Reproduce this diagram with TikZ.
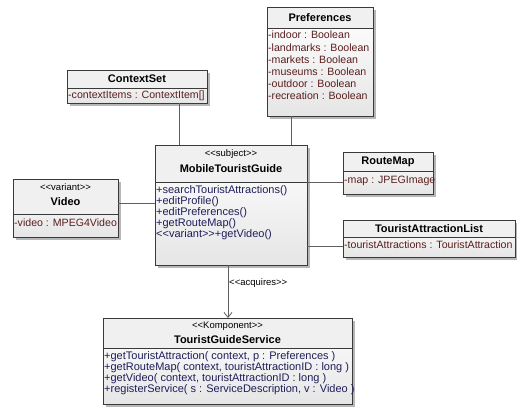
\documentclass[tikz,border=0pt]{standalone}
\usepackage{fontspec}
\setmainfont{Liberation Sans}
\usetikzlibrary{shadows,calc,arrows.meta}
\definecolor{attrc}{HTML}{5A1E1E}
\definecolor{opc}{HTML}{1E1E5A}
\definecolor{linec}{HTML}{606060}
\definecolor{hdrc}{HTML}{F0F0F0}
\definecolor{bordc}{HTML}{3A3A3A}
\newcommand\umlopen{<\kern0pt<}
\newcommand\umlclose{>\kern0pt>}
\tikzset{
  classbox/.style={rectangle, inner sep=0pt, outer sep=0pt, draw=bordc, line width=0.8pt,
    top color=white, bottom color=black!10,
    drop shadow={shadow xshift=2.5pt, shadow yshift=-2.5pt, fill=black!35, opacity=0.8}},
  hdrfill/.style={fill=hdrc},
  border/.style={draw=bordc, line width=0.8pt},
  titletext/.style={inner sep=0pt, font=\fontsize{11}{13}\selectfont\bfseries},
  stereo/.style={inner sep=0pt, font=\fontsize{9.5}{11}\selectfont},
  attrtext/.style={inner sep=0pt, anchor=north west, align=left, text=attrc, font=\fontsize{10.6}{11.8}\selectfont},
  optext/.style={inner sep=0pt, anchor=north west, align=left, text=opc, font=\fontsize{11}{11}\selectfont},
  conn/.style={draw=linec, line width=0.8pt},
  lbl/.style={inner sep=0pt, font=\fontsize{9.5}{11}\selectfont}
}
% name, left, top, right, header bottom, bottom
\newcommand\umlbox[6]{%
  \node[classbox, anchor=north west, minimum width=#4pt-#2pt, minimum height=#6pt-#3pt] (#1) at (#2,#3) {};
  \fill[hdrfill] (#2,#3) rectangle (#4,#5);
  \draw[border] (#2,#5) -- (#4,#5);
  \draw[border] (#1.north west) rectangle (#1.south east);
}
\begin{document}
\begin{tikzpicture}[x=1pt,y=-1pt]
\useasboundingbox (0,0) rectangle (517,410);
\fill[white] (0,0) rectangle (517,410);

% Preferences
\umlbox{pref}{267}{7}{373}{28}{116}
\node[titletext] (prefT) at (320,17.5) {Preferences};
\node[attrtext] (prefA) at (268,31) {-indoor : Boolean\\[0.4pt]-landmarks : Boolean\\[0.4pt]-markets : Boolean\\[0.4pt]-museums : Boolean\\[0.4pt]-outdoor : Boolean\\[0.4pt]-recreation : Boolean};

% ContextSet
\umlbox{ctx}{67}{70}{207}{88}{103}
\node[titletext] (ctxT) at (137,79) {ContextSet};
\node[attrtext] (ctxA) at (68,91) {-contextItems : ContextItem[]};

% MobileTouristGuide
\umlbox{mtg}{155}{145}{307}{182}{265}
\node[stereo] (mtgS) at (231,154) {\umlopen subject\umlclose};
\node[titletext] (mtgT) at (231,169) {MobileTouristGuide};
\node[optext] (mtgO) at (156,185) {+searchTouristAttractions()\\+editProfile()\\+editPreferences()\\+getRouteMap()\\\umlopen variant\umlclose+getVideo()};

% Video
\umlbox{vid}{13}{179}{118}{214}{237}
\node[stereo] (vidS) at (65.5,187) {\umlopen variant\umlclose};
\node[titletext] (vidT) at (65.5,202) {Video};
\node[attrtext] (vidA) at (14,219) {-video : MPEG4Video};

% RouteMap
\umlbox{rmap}{343}{152}{433}{171}{194}
\node[titletext] (rmapT) at (388,161.5) {RouteMap};
\node[attrtext] (rmapA) at (344,176) {-map : JPEGImage};

% TouristAttractionList
\umlbox{tal}{343}{220}{515}{237}{257}
\node[titletext] (talT) at (429,228.5) {TouristAttractionList};
\node[attrtext] (talA) at (344,241) {-touristAttractions : TouristAttraction};

% TouristGuideService
\umlbox{tgs}{103}{318}{352}{348}{404}
\node[stereo] (tgsS) at (227.5,326) {\umlopen Komponent\umlclose};
\node[titletext] (tgsT) at (227.5,340) {TouristGuideService};
\node[optext] (tgsO) at (104,351) {+getTouristAttraction( context, p : Preferences )\\+getRouteMap( context, touristAttractionID : long )\\+getVideo( context, touristAttractionID : long )\\+registerService( s : ServiceDescription, v : Video )};

% connectors
\draw[conn] (ctx.south -| 179,0) -- (mtg.north -| 179,0);
\draw[conn] (pref.south -| 291,0) -- (mtg.north -| 291,0);
\draw[conn] (vid.east |- 0,203) -- (mtg.west |- 0,203);
\draw[conn] (rmap.west |- 0,182) -- (mtg.east |- 0,182);
\draw[conn] (tal.west |- 0,246) -- (mtg.east |- 0,246);
\draw[conn, -{Straight Barb[length=5pt,width=8pt]}] (mtg.south -| 228,0) -- (tgs.north -| 228,0);
\node[lbl, anchor=west] (acq) at (229,283) {\umlopen acquires\umlclose};
\end{tikzpicture}
\end{document}
